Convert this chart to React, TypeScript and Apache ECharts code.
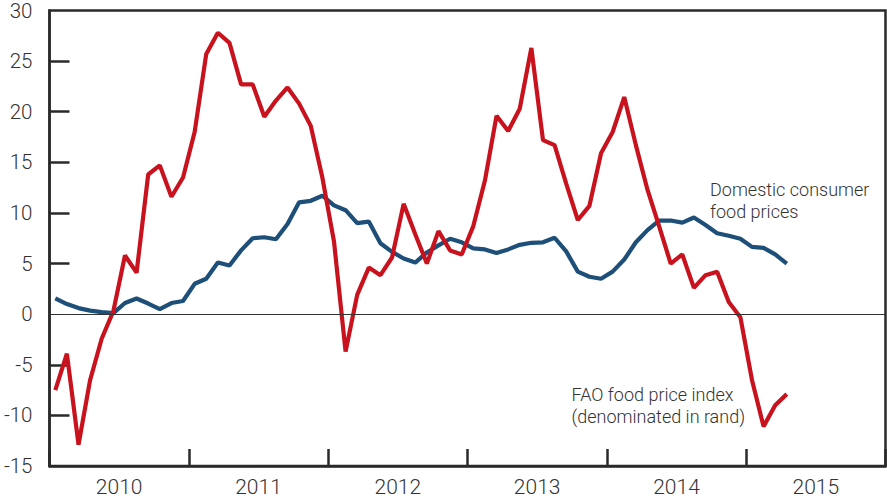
import React, { useEffect, useRef } from "react";
import * as echarts from "echarts";

const years = ["2010", "2011", "2012", "2013", "2014", "2015"];
const monthNames = ["Jan", "Feb", "Mar", "Apr", "May", "Jun", "Jul", "Aug", "Sep", "Oct", "Nov", "Dec"];
const months = years.flatMap((y) => monthNames.map((m) => `${m} ${y}`));

// FAO food price index (denominated in rand), % change, Jan 2010 - Apr 2015
const faoIndex = [
  -7.5, -3.9, -12.9, -6.5, -2.4, 0.3, 5.8, 4.1, 13.8, 14.7, 11.6, 13.5,
  18.0, 25.7, 27.8, 26.8, 22.7, 22.7, 19.5, 21.1, 22.4, 20.8, 18.6, 13.5,
  7.2, -3.7, 1.9, 4.6, 3.85, 5.6, 10.9, 7.9, 5.0, 8.2, 6.3, 5.9,
  8.7, 13.2, 19.6, 18.1, 20.3, 26.3, 17.2, 16.7, 12.9, 9.3, 10.7, 15.9,
  18.0, 21.45, 16.7, 12.3, 8.7, 5.0, 5.9, 2.6, 3.85, 4.2, 1.2, -0.3,
  -6.5, -11.1, -9.0, -7.9,
];

// Domestic consumer food prices, % change
const domesticFood = [
  1.55, 1.0, 0.6, 0.35, 0.2, 0.1, 1.1, 1.55, 1.05, 0.5, 1.1, 1.3,
  3.0, 3.5, 5.1, 4.8, 6.3, 7.5, 7.6, 7.4, 8.9, 11.05, 11.2, 11.7,
  10.75, 10.27, 9.0, 9.15, 7.0, 6.15, 5.5, 5.1, 6.1, 6.8, 7.45, 7.1,
  6.5, 6.4, 6.05, 6.4, 6.85, 7.05, 7.1, 7.55, 6.2, 4.2, 3.7, 3.5,
  4.2, 5.4, 7.1, 8.3, 9.25, 9.25, 9.05, 9.55, 8.8, 8.0, 7.75, 7.45,
  6.65, 6.55, 5.9, 5.0,
];

const yTickValues = [-10, -5, 5, 10, 15, 20, 25];

const FONT = "Roboto, Liberation Sans, Arial, sans-serif";
const WEIGHT = 300;
const TEXT = "#333333";
const AXIS = "#2a2a2a";

export default function App() {
  const ref = useRef<HTMLDivElement>(null);

  useEffect(() => {
    if (!ref.current) return;
    const chart = echarts.init(ref.current, null, { renderer: "svg" });
    chart.setOption({
      animation: false,
      backgroundColor: "#ffffff",
      grid: {
        left: 49.5,
        right: 1.5,
        top: 9.5,
        bottom: 33,
        show: true,
        borderColor: AXIS,
        borderWidth: 2.5,
      },
      xAxis: [
        {
          type: "category",
          data: months,
          boundaryGap: true,
          show: false,
        },
        {
          type: "category",
          data: years,
          position: "bottom",
          boundaryGap: true,
          axisLine: { show: true, lineStyle: { color: AXIS, width: 2.5 } },
          axisTick: {
            show: true,
            inside: true,
            length: 17,
            interval: 0,
            lineStyle: { color: AXIS, width: 2.5 },
          },
          axisLabel: {
            interval: 0,
            margin: 10,
            fontSize: 21,
            fontWeight: WEIGHT,
            color: TEXT,
            fontFamily: FONT,
          },
          splitLine: { show: false },
        },
      ],
      yAxis: {
        type: "value",
        min: -15,
        max: 30,
        interval: 5,
        axisLine: { show: true, lineStyle: { color: AXIS, width: 2.5 } },
        axisTick: {
          show: true,
          inside: true,
          length: 20,
          customValues: yTickValues,
          lineStyle: { color: AXIS, width: 2.5 },
        },
        axisLabel: {
          margin: 17,
          fontSize: 20.5,
          fontWeight: WEIGHT,
          color: TEXT,
          fontFamily: FONT,
        },
        splitLine: { show: false },
      },
      series: [
        {
          name: "Domestic consumer food prices",
          type: "line",
          xAxisIndex: 0,
          data: domesticFood,
          symbol: "none",
          lineStyle: { color: "#1d4f79", width: 4.2 },
          z: 3,
          markLine: {
            silent: true,
            symbol: "none",
            label: { show: false },
            lineStyle: { color: "#333333", width: 1, type: "solid" },
            data: [{ yAxis: 0 }],
          },
        },
        {
          name: "FAO food price index (denominated in rand)",
          type: "line",
          xAxisIndex: 0,
          data: faoIndex,
          symbol: "none",
          lineStyle: { color: "#c8131f", width: 4.2 },
          z: 4,
        },
      ],
      graphic: [
        {
          type: "text",
          x: 710,
          y: 178.5,
          style: {
            text: "Domestic consumer\nfood prices",
            font: `${WEIGHT} 18px ${FONT}`,
            fill: TEXT,
            lineHeight: 22,
            verticalAlign: "top",
          },
        },
        {
          type: "text",
          x: 571.5,
          y: 383.5,
          style: {
            text: "FAO food price index\n(denominated in rand)",
            font: `${WEIGHT} 18px ${FONT}`,
            fill: TEXT,
            lineHeight: 22,
            verticalAlign: "top",
          },
        },
      ],
    });
    return () => chart.dispose();
  }, []);

  return (
    <div
      ref={ref}
      style={{ position: "fixed", left: 0, top: 0, width: 887, height: 499 }}
    />
  );
}
